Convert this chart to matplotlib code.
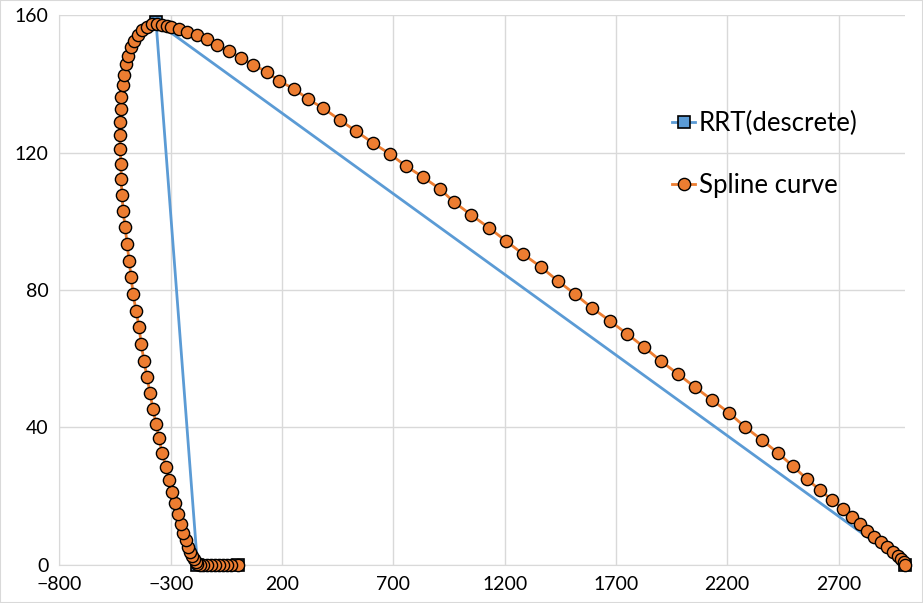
import matplotlib
matplotlib.use("Agg")
import matplotlib.pyplot as plt
from matplotlib.patches import Rectangle

# RRT discrete path
rrt_x = [0, -180, -366, 3000]
rrt_y = [0, 0, 158.1, 0]

# Spline curve points
spline_x = [0, -30, -48, -66, -84, -102, -120, -138, -155, -170, -182,
            -186, -195, -204, -213, -222, -231, -245, -254, -267, -281,
            -294, -308, -321, -339, -353, -366, -380, -393, -407, -420,
            -433, -442, -456, -469, -478, -487, -496, -505, -514, -519,
            -523, -523, -528, -528, -528, -523, -523, -514, -510, -501,
            -492, -478, -465, -447, -429, -407, -384, -362, -339, -317,
            -299, -263, -227, -182, -137, -92, -38, 16, 70, 133,
            186, 254, 317, 384, 460, 532, 609, 685, 757, 833,
            910, 973, 1049, 1130, 1206, 1282, 1363, 1440, 1516, 1592,
            1673, 1750, 1826, 1902, 1979, 2055, 2131, 2208, 2280, 2356,
            2428, 2495, 2558, 2617, 2671, 2720, 2760, 2796, 2828, 2859,
            2891, 2918, 2945, 2967, 2980, 2994, 3000]
spline_y = [0, 0, 0, 0, 0, 0, 0, 0, 0, 0, 0.2,
            0.8, 1.6, 2.5, 3.7, 5.1, 7.2, 9.2, 11.8, 14.7, 17.9,
            21.2, 24.6, 28.4, 32.5, 36.9, 41.0, 45.3, 50.0, 54.7, 59.3,
            64.3, 69.2, 73.9, 78.8, 83.8, 88.4, 93.4, 98.4, 103.0, 107.7,
            112.3, 116.7, 121.1, 125.2, 128.9, 132.7, 136.2, 139.7, 142.6, 145.8,
            148.2, 150.8, 152.5, 154.3, 155.7, 156.6, 157.5, 157.5, 157.2, 156.9,
            156.6, 156.0, 155.2, 154.3, 153.1, 151.4, 149.6, 147.6, 145.6, 143.5,
            140.9, 138.6, 135.6, 133.0, 129.5, 126.3, 122.8, 119.6, 116.1, 112.9,
            109.4, 105.6, 101.9, 98.1, 94.3, 90.5, 86.7, 82.6, 78.8, 74.8,
            71.0, 67.2, 63.4, 59.3, 55.5, 51.7, 48.0, 44.2, 40.1, 36.3,
            32.5, 28.7, 24.9, 21.7, 18.8, 16.2, 13.9, 11.8, 9.8, 8.0,
            6.6, 5.1, 3.7, 2.5, 1.6, 0.8, 0]

x_ticks = [-800, -300, 200, 700, 1200, 1700, 2200, 2700]
y_ticks = [0, 40, 80, 120, 160]

plt.rcParams['font.family'] = ['Lato', 'DejaVu Sans']

fig = plt.figure(figsize=(9.23, 6.03), dpi=100)
ax = fig.add_axes([0.0644, 0.0637, 0.9164, 0.9108])

ax.plot(rrt_x, rrt_y, color='#5B9BD5', lw=2, marker='s', markersize=8,
        markerfacecolor='#5B9BD5', markeredgecolor='black', markeredgewidth=1.2,
        label='RRT(descrete)', clip_on=False, zorder=3)
ax.plot(spline_x, spline_y, color='#ED7D31', lw=2, marker='o', markersize=8.8,
        markerfacecolor='#ED7D31', markeredgecolor='black', markeredgewidth=1,
        label='Spline curve', clip_on=False, zorder=4)

ax.set_xlim(-800, 3000)
ax.set_ylim(0, 160)
ax.set_xticks(x_ticks)
ax.set_yticks(y_ticks)
ax.grid(True, color='#d9d9d9', lw=1)
ax.set_axisbelow(True)
for s in ['top', 'right']:
    ax.spines[s].set_visible(False)
ax.spines['left'].set_color('#d9d9d9')
ax.spines['bottom'].set_color('#d9d9d9')
ax.tick_params(length=0, labelsize=14, colors='black', pad=8)

ax.legend(loc='upper left', bbox_to_anchor=(0.712, 0.845), frameon=False,
          fontsize=18.5, handlelength=0.9, handletextpad=0.15, labelspacing=1.45,
          borderaxespad=0)

fig.patches.append(Rectangle((0, 0), 1, 1, transform=fig.transFigure,
                             fill=False, edgecolor='#d9d9d9', lw=1.5))

fig.savefig('out.png', dpi=100)
